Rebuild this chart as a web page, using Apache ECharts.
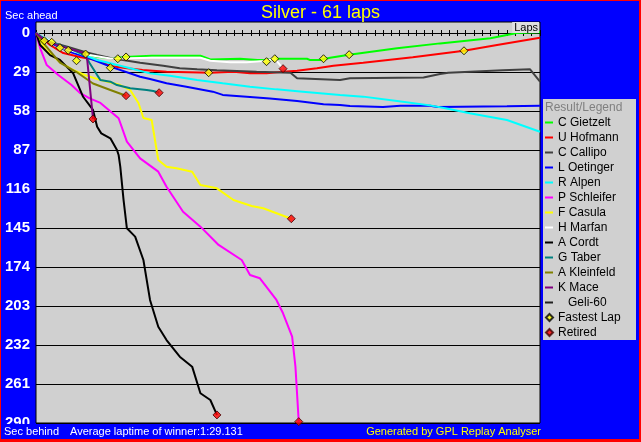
<!DOCTYPE html>
<html><head><meta charset="utf-8">
<script src="https://cdn.jsdelivr.net/npm/echarts@6/dist/echarts.min.js"></script>
<style>
html,body{margin:0;padding:0;background:#0000ff;}
#wrap{position:relative;width:641px;height:442px;}
#chart{position:absolute;left:0;top:0;width:641px;height:442px;}
#frame{position:absolute;left:0;top:0;width:641px;height:442px;box-sizing:border-box;border-style:solid;border-color:#ff0000;border-width:1px 2px 3px 1px;pointer-events:none;}
</style></head><body>
<div id="wrap"><div id="chart"></div><div id="frame"></div></div>
<script>
// ---- data: [lap, seconds behind average winner pace] ----
const gietzelt = [[0,0],[1,5.7],[1.9,6.9],[2.9,10.9],[3.9,12.9],[5.9,15.6],[7.4,17.6],[9,18.8],[11.4,17.6],[14,16.9],[19.9,16.9],[21.1,19.6],[24.7,19.1],[26.8,20.1],[27.5,20.1],[29.2,19.1],[32.8,19.1],[33.2,20.1],[34.4,20.1],[35.6,18.4],[37.9,16.1],[43.7,11.4],[48.9,7.7],[55,3.9],[58.2,0],[61,-0.5]];
const hofmann = [[0,0],[1.7,8.9],[3.3,14.9],[5.3,17.8],[7.4,20.1],[9,24.5],[10.8,26],[12.9,27.5],[15.8,28.8],[21.1,29.5],[23.9,28.8],[25.9,30],[27.9,30],[29.9,28.8],[31.6,28],[34,26.2],[36,24.3],[39.6,22.1],[45.6,18.1],[51.8,13.2],[55.8,8.9],[61,3.5]];
const callipo = [[0,0],[1.7,6.7],[3.9,10.4],[5.9,14.1],[7.4,16.4],[9,18.6],[12.6,22.1],[15.4,24.3],[17.4,26.2],[19.5,27],[21.9,27.7],[26.7,28.8],[30.8,29.5],[31.6,33.7],[36.8,35],[38,33.7],[46.9,33],[48.9,30.5],[49.9,29.5],[56.5,27.7],[59.8,27],[61,36.2]];
const oetinger = [[0,0],[2,8],[3.9,13.5],[5.9,17.5],[7.4,21],[9,25],[12.6,32.5],[13.8,34.2],[15.8,37.4],[18.2,39.9],[21.4,43.6],[22.6,46],[25.5,47.3],[28.3,48.6],[31.6,50.6],[34.8,53],[36.8,53.5],[38,54.3],[42,55],[44.1,54],[47.7,54],[48.6,55],[57,54.5],[61,54]];
const alpen = [[0,0],[2.9,9.7],[7.4,20.1],[11.4,26.2],[13.8,30],[16.2,31.7],[19.5,35],[22.6,37.4],[25.9,39.9],[29.1,41.9],[32.3,43.6],[36.8,46],[39.6,47.3],[43.7,50.6],[47.7,53.8],[50,56.5],[52.5,59.7],[57,64.7],[61,73.4]];
const schleifer = [[0,0],[0.5,11.2],[1.3,23.8],[2.7,31.2],[4.3,38.7],[5.3,44.5],[6.5,48.6],[7.8,52],[10,63.4],[11,80.8],[12.6,93.2],[14.8,103.1],[15.8,114.3],[17.8,132.9],[19.9,144],[22.1,157.6],[24.9,168.8],[25.9,179.9],[27.1,182.4],[29.1,198.5],[29.9,208.4],[31,225.8],[31.4,248.1],[31.8,289]];
const casula = [[0,0],[1.2,12.6],[2.9,21.6],[4.5,27.5],[5.9,31.2],[7.8,35],[10.2,38.7],[11.4,42.4],[12.4,52],[13,63.2],[14,64.7],[14.8,94.4],[15.8,99.4],[17,100.6],[18.9,103.1],[19.9,113],[21.9,115.5],[23.9,124.2],[26.1,128.6],[27.5,130.3],[30.9,138.1]];
const marfan = [[0,0],[1.7,5.9],[3.3,11.4],[5.9,15.8],[9,19],[11.4,18.8],[14,18.4],[19.9,18.4],[21.1,20.6],[23.5,21.8],[25.5,21.8],[27.5,20.8],[28.9,19.1],[29.9,26.5]];
const cordt = [[0,0],[0.5,8.9],[1.7,16.4],[2.9,20],[4.5,30],[5.7,47.4],[6.9,57.2],[7.4,69.7],[7.9,74.6],[9,78.3],[9.8,87],[10,90.7],[10.2,99.4],[10.6,124.2],[11,145.2],[12,151.4],[13,168.8],[13.8,198.5],[14.8,218.4],[15.8,228.3],[17.4,240.7],[18.9,248.1],[19.9,267.9],[21.1,272.9],[21.9,284]];
const taber = [[0,0],[1.7,6.7],[3.9,11.2],[5.9,16.4],[6.5,22.5],[7.4,31.2],[7.8,35],[9,36.2],[9.8,38.7],[11.4,41.1],[13.4,42.4],[14.2,43.1],[14.9,44.4]];
const kleinfeld = [[0,0],[1.2,9.7],[2.9,22],[4.9,29],[6.9,37.5],[9,42.4],[10.9,46.6]];
const mace = [[0,0],[1,5.2],[2.9,9.7],[5.9,15.1],[6.2,20],[6.9,63.9]];
const geli = [];
const fastestLap = [[1,5.7],[1.9,6.9],[2.9,10.9],[3.9,12.9],[4.9,20.6],[6,15.6],[9,25.8],[9.9,19.1],[10.9,17.8],[20.9,29.5],[27.9,21.3],[28.9,19.1],[34.8,19.1],[37.9,16.1],[51.8,13.2]];
const retired = [[29.9,26.5],[14.9,44.4],[10.9,46.6],[6.9,63.9],[30.9,138.1],[21.9,284],[31.8,289]];
const driverNames = ['C Gietzelt','U Hofmann','C Callipo','L Oetinger','R Alpen','P Schleifer','F Casula','H Marfan','A Cordt','G Taber','A Kleinfeld','K Mace','Geli-60'];
const yTicks = [0,29,58,87,116,145,174,203,232,261,290];
const totalLaps = 61;

// ---- styles ----
const driverData = [gietzelt,hofmann,callipo,oetinger,alpen,schleifer,casula,marfan,cordt,taber,kleinfeld,mace,geli];
const driverColors = ['#00ff00','#ff0000','#404040','#0000ff','#00ffff','#ff00ff','#ffff00','#ffffff','#000000','#008080','#808000','#800080','#202020'];
const FONT = '"Liberation Sans", Arial, sans-serif';

const series = driverNames.map((n,i)=>({
  name:n, type:'line', data:driverData[i], showSymbol:false, symbol:'none',
  lineStyle:{width:2,color:driverColors[i]}, itemStyle:{color:driverColors[i]},
  z:2+i*0.01, silent:true
}));
series.push({name:'Fastest Lap', type:'scatter', data:fastestLap, symbol:'diamond', symbolSize:8,
  itemStyle:{color:'#ffff00', borderColor:'#000', borderWidth:1}, z:5, silent:true});
series.push({name:'Retired', type:'scatter', data:retired, symbol:'diamond', symbolSize:8,
  itemStyle:{color:'#ff0000', borderColor:'#400000', borderWidth:1}, z:5, silent:true});

const chart = echarts.init(document.getElementById('chart'), null, {renderer:'canvas'});
const legendText = {color:'#000', fontSize:12, fontFamily:FONT, lineHeight:15};
chart.setOption({
  backgroundColor:'#0000ff',
  animation:false,
  title:[
    {text:'Silver - 61 laps', left:'center', top:4, padding:0, textStyle:{color:'#ffff00', fontSize:18, fontWeight:'normal', fontFamily:FONT}},
    {text:'Result/Legend', left:545, top:102, padding:0, textStyle:{color:'#808080', fontSize:12, fontWeight:'normal', fontFamily:FONT}}
  ],
  grid:{left:36, top:22, width:504, height:401, show:true, backgroundColor:'#d0d0d0', borderColor:'#000', borderWidth:1},
  xAxis:[
    {type:'value', min:0, max:totalLaps, interval:1, position:'bottom',
     axisLine:{onZero:true, onZeroAxisIndex:0, lineStyle:{color:'#000', width:1}},
     axisTick:{show:true, length:3, lineStyle:{color:'#000'}}, axisLabel:{show:false}, splitLine:{show:false}},
    {type:'value', min:0, max:totalLaps, interval:1, position:'top',
     axisLine:{show:false, onZero:true, onZeroAxisIndex:0},
     axisTick:{show:true, length:3, lineStyle:{color:'#000'}}, axisLabel:{show:false}, splitLine:{show:false}}
  ],
  yAxis:{type:'value', inverse:true, min:-8.2, max:290,
    axisLine:{show:false}, axisTick:{show:false, customValues:yTicks},
    axisLabel:{customValues:yTicks, color:'#fff', fontWeight:'bold', fontSize:15, fontFamily:FONT, margin:6},
    splitLine:{show:true, lineStyle:{color:'#000', width:1}}},
  legend:[
    {data:driverNames, left:545, top:115, orient:'vertical', itemWidth:8, itemHeight:2, itemGap:0, icon:'rect',
     padding:0, selectedMode:false, textStyle:legendText,
     formatter:n=> n==='Geli-60' ? '   Geli-60' : n},
    {data:['Fastest Lap','Retired'], left:545, top:310, orient:'vertical', itemWidth:7, itemHeight:7, itemGap:0,
     padding:0, selectedMode:false, textStyle:legendText}
  ],
  graphic:[
    {type:'rect', shape:{x:543, y:99, width:93, height:241}, style:{fill:'#d0d0d0'}, z:0, silent:true},
    {type:'text', x:5, y:16, style:{text:'Sec ahead', fill:'#fff', font:'11px '+FONT, verticalAlign:'middle'}, z:10, silent:true},
    {type:'text', x:539, y:22, style:{text:'Laps', fill:'#000', font:'11px '+FONT, align:'right', verticalAlign:'top', backgroundColor:'#e0e0e0', padding:[0,1,0,2]}, z:50, silent:true},
    {type:'rect', shape:{x:0, y:424, width:35, height:18}, style:{fill:'#0000ff'}, z:100, silent:true},
    {type:'text', x:4, y:432, style:{text:'Sec behind', fill:'#fff', font:'11px '+FONT, verticalAlign:'middle'}, z:101, silent:true},
    {type:'text', x:70, y:432, style:{text:'Average laptime of winner:1:29.131', fill:'#fff', font:'11px '+FONT, verticalAlign:'middle'}, z:101, silent:true},
    {type:'text', x:541, y:432, style:{text:'Generated by GPL Replay Analyser', fill:'#ffff00', font:'11px '+FONT, align:'right', verticalAlign:'middle'}, z:101, silent:true}
  ],
  series:series
});
</script>
</body></html>
